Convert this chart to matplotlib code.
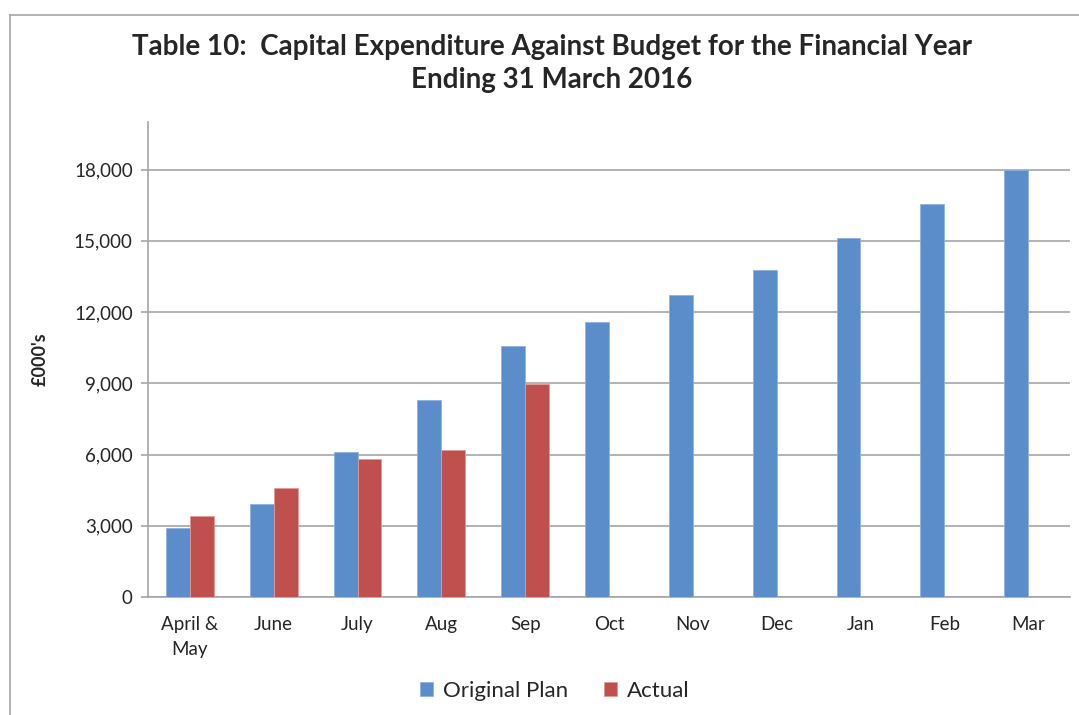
import matplotlib
matplotlib.use("Agg")
import matplotlib.pyplot as plt
import numpy as np
from matplotlib.lines import Line2D

categories = ["April &\nMay", "June", "July", "Aug", "Sep", "Oct", "Nov", "Dec", "Jan", "Feb", "Mar"]
original_plan = [2900, 3900, 6100, 8300, 10550, 11600, 12700, 13750, 15100, 16550, 18000]
actual = [3400, 4600, 5800, 6200, 8950, None, None, None, None, None, None]
yticks = [0, 3000, 6000, 9000, 12000, 15000, 18000]
ytick_labels = ["0", "3,000", "6,000", "9,000", "12,000", "15,000", "18,000"]

plt.rcParams['font.family'] = ['Lato', 'DejaVu Sans']

W, H = 1079, 715
fig = plt.figure(figsize=(W / 100, H / 100), dpi=100)
ax = fig.add_axes([148 / W, 1 - 597 / H, (1070 - 148) / W, (597 - 122) / H])

x = np.arange(len(categories))
w = 1 / 3.5
blue = "#5A8DCA"
red = "#C0504D"
ax.bar(x - w / 2, original_plan, width=w, color=blue, edgecolor="#8DB3E2", linewidth=0.6,
       label="Original Plan", zorder=3)
act_x = [xi + w / 2 for xi, v in zip(x, actual) if v is not None]
act_v = [v for v in actual if v is not None]
ax.bar(act_x, act_v, width=w, color=red, edgecolor="#E09A98", linewidth=0.6,
       label="Actual", zorder=3)

ax.set_xlim(-0.5, len(categories) - 0.5)
ax.set_ylim(0, 20000)
ax.set_yticks(yticks)
ax.set_yticklabels(ytick_labels)
ax.set_xticks(x)
ax.set_xticklabels(categories, linespacing=1.55)
grid_c = "#A6A6A6"
ax.yaxis.grid(True, color=grid_c, linewidth=1.2, zorder=0)
ax.set_axisbelow(True)
for s in ["top", "right"]:
    ax.spines[s].set_visible(False)
for s in ["left", "bottom"]:
    ax.spines[s].set_color(grid_c)
    ax.spines[s].set_linewidth(1.2)
ax.tick_params(axis="y", length=5, color=grid_c, width=1.2, labelsize=13.5, labelcolor="#262626", pad=6)
ax.tick_params(axis="x", length=0, labelsize=13.5, labelcolor="#262626", pad=14)
ax.set_ylabel("£000's", fontsize=13, fontweight="bold", color="#262626", labelpad=18)

title_kw = dict(ha="center", va="center", fontsize=20, fontweight="bold", color="#262626")
fig.text(552 / W, 1 - 47 / H, "Table 10:  Capital Expenditure Against Budget for the Financial Year", **title_kw)
fig.text(552 / W, 1 - 80 / H, "Ending 31 March 2016", **title_kw)

leg = fig.legend(loc="center", bbox_to_anchor=(555 / W, 1 - 691 / H), ncol=2, frameon=False,
                 fontsize=16, handlelength=0.6, handleheight=0.6, columnspacing=1.6, handletextpad=0.45)
for t in leg.get_texts():
    t.set_color("#262626")

frame_c = "#A6A6A6"
fig.add_artist(Line2D([10 / W, 10 / W], [0, 1 - 15 / H], color=frame_c, linewidth=1.2, transform=fig.transFigure))
fig.add_artist(Line2D([10 / W, 1], [1 - 15 / H, 1 - 15 / H], color=frame_c, linewidth=1.2, transform=fig.transFigure))

fig.savefig("out.png", dpi=100)
